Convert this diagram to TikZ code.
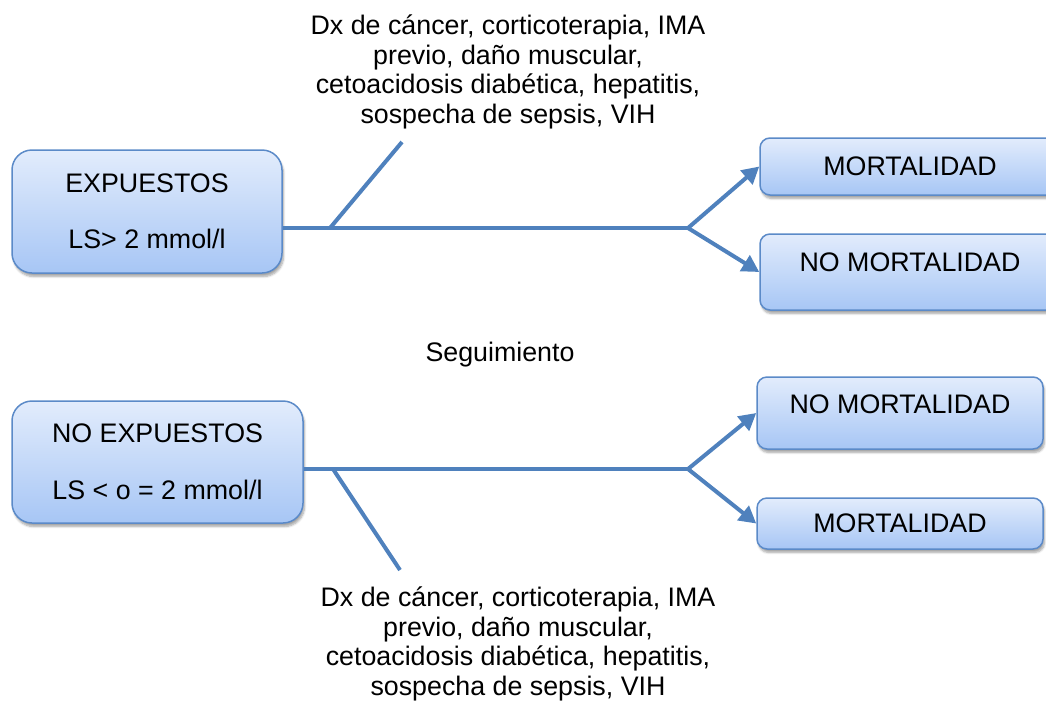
\documentclass[tikz,border=0pt]{standalone}
\usepackage{fontspec}
\setmainfont{Liberation Sans}
\usetikzlibrary{arrows.meta,shadows.blur}

\definecolor{boxline}{HTML}{5B8AC8}
\definecolor{linkblue}{HTML}{4F81BD}
\definecolor{boxtop}{HTML}{E2ECFC}
\definecolor{boxbottom}{HTML}{A7C6F5}

\begin{document}
\begin{tikzpicture}[x=1pt, y=-1pt,
  every node/.style = {font=\fontsize{26.8}{29.5}\selectfont, align=center, inner sep=0pt},
  box/.style = {draw=boxline, line width=1.5pt, rounded corners=#1,
                top color=boxtop, bottom color=boxbottom,
                blur shadow={shadow xshift=1.5pt, shadow yshift=-3.5pt, shadow blur steps=6, shadow opacity=35}},
  box/.default = 10pt,
  link/.style = {draw=linkblue, line width=4pt},
  arrow/.style = {link, -{Triangle[length=17pt,width=18pt]}}
  ]
  \clip (0,0) rectangle (1046,702);

  % groups
  \node[box=20pt, minimum width=270pt, minimum height=123pt] (exp) at (147,211.5)
       {EXPUESTOS\\[27pt]LS> 2 mmol/l};
  \node[box=20pt, minimum width=291pt, minimum height=122pt] (noexp) at (157.5,462)
       {NO EXPUESTOS\\[28pt]LS < o = 2 mmol/l};

  % outcomes
  \node[box, minimum width=300pt, minimum height=57pt] (mort1) at (910,166.5) {MORTALIDAD};
  \node[box, minimum width=300pt, minimum height=76pt, text depth=20pt] (nomort1) at (910,272) {NO MORTALIDAD};
  \node[box, minimum width=286pt, minimum height=72pt, text depth=17pt] (nomort2) at (900,413) {NO MORTALIDAD};
  \node[box, minimum width=286pt, minimum height=51pt] (mort2) at (900,523.5) {MORTALIDAD};

  % confounders and follow-up
  \node (risk1) at (508,72) {Dx de cáncer, corticoterapia, IMA\\previo, daño muscular,\\cetoacidosis diabética, hepatitis,\\sospecha de sepsis, VIH};
  \node (risk2) at (518,644) {Dx de cáncer, corticoterapia, IMA\\previo, daño muscular,\\cetoacidosis diabética, hepatitis,\\sospecha de sepsis, VIH};
  \node (follow) at (500,355) {Seguimiento};

  \coordinate (split1) at (688,228);
  \coordinate (split2) at (688,469);
  \coordinate (foot1) at (330,228);
  \coordinate (tick1) at (402,142);
  \coordinate (foot2) at (333,469);
  \coordinate (tick2) at (400,570);

  \draw[link] (exp.east |- split1) -- (split1);
  \draw[link] (foot1) -- (tick1);
  \draw[arrow] (split1) -- (mort1.west);
  \draw[arrow] (split1) -- (nomort1.west);

  \draw[link] (noexp.east |- split2) -- (split2);
  \draw[link] (foot2) -- (tick2);
  \draw[arrow] (split2) -- (nomort2.west);
  \draw[arrow] (split2) -- (mort2.west);
\end{tikzpicture}
\end{document}
